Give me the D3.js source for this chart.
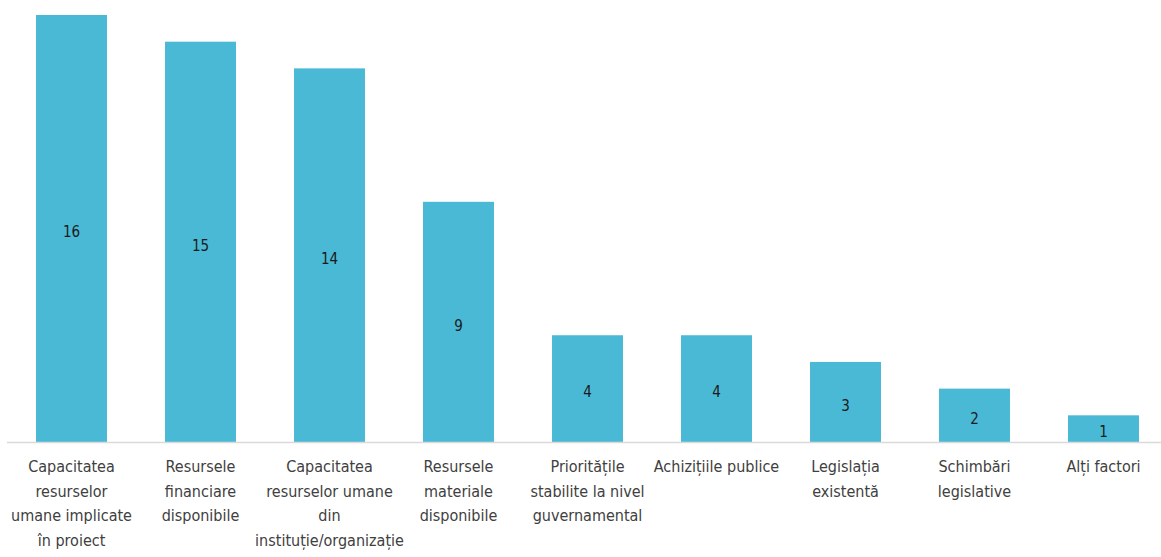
<!DOCTYPE html>
<html>
<head>
<meta charset="utf-8">
<script src="https://cdn.jsdelivr.net/npm/d3@7"></script>
<style>
  html, body { margin: 0; padding: 0; background: #fff; }
  svg { display: block; }
  .tick-label { font-family: "Liberation Sans Narrow", "DejaVu Sans Condensed", "Open Sans", sans-serif; font-size: 16px; fill: #404040; }
  .value-label { font-family: "Liberation Sans Narrow", "DejaVu Sans Condensed", "Open Sans", sans-serif; font-size: 15px; fill: #1a1a1a; }
</style>
</head>
<body>
<svg width="1161" height="557"></svg>
<script>
let svg = d3.select("svg"),
    width = +svg.attr("width"),
    height = +svg.attr("height");

// categories (line breaks as they appear under the bars)
let categories = [
    "Capacitatea\nresurselor\numane implicate\nîn proiect",
    "Resursele\nfinanciare\ndisponibile",
    "Capacitatea\nresurselor umane\ndin\ninstituție/organizație",
    "Resursele\nmateriale\ndisponibile",
    "Prioritățile\nstabilite la nivel\nguvernamental",
    "Achizițiile publice",
    "Legislația\nexistentă",
    "Schimbări\nlegislative",
    "Alți factori"
];
let values = [16, 15, 14, 9, 4, 4, 3, 2, 1];

let barColor = "#4ab9d5";
let axisColor = "#d9d9d9";

let baseline = 442;

let x = d3.scaleBand()
    .domain(d3.range(categories.length))
    .range([7, 1168])
    .paddingInner(0.45)
    .paddingOuter(0.225);

let y = d3.scaleLinear()
    .domain([0, 16])
    .range([baseline, 15]);

//bars
svg.append("g")
    .attr("class", "bars")
    .selectAll("rect")
    .data(values).enter().append("rect")
        .attr("x", (d, i) => x(i))
        .attr("y", d => y(d))
        .attr("width", x.bandwidth())
        .attr("height", d => y(0) - y(d))
        .attr("fill", barColor);

//baseline
svg.append("line")
    .attr("x1", 7)
    .attr("x2", width)
    .attr("y1", baseline + 0.5)
    .attr("y2", baseline + 0.5)
    .attr("stroke", axisColor)
    .attr("stroke-width", 1.5);

//value labels in middle of bar (nudged down a little, like the original)
svg.append("g")
    .selectAll("text")
    .data(values).enter().append("text")
        .attr("class", "value-label")
        .attr("x", (d, i) => x(i) + x.bandwidth() / 2)
        .attr("y", d => (y(d) + y(0)) / 2 + 3.5)
        .attr("dy", "0.35em")
        .attr("text-anchor", "middle")
        .text(d => d);

//category labels
let labels = svg.append("g")
    .selectAll("text")
    .data(categories).enter().append("text")
        .attr("class", "tick-label")
        .attr("text-anchor", "middle")
        .attr("x", (d, i) => x(i) + x.bandwidth() / 2)
        .attr("y", 472);

labels.each(function(d, i) {
    let cx = x(i) + x.bandwidth() / 2;
    d3.select(this).selectAll("tspan")
        .data(d.split("\n")).enter().append("tspan")
            .attr("x", cx)
            .attr("dy", (l, j) => j === 0 ? 0 : 24.5)
            .text(l => l);
});
</script>
</body>
</html>
